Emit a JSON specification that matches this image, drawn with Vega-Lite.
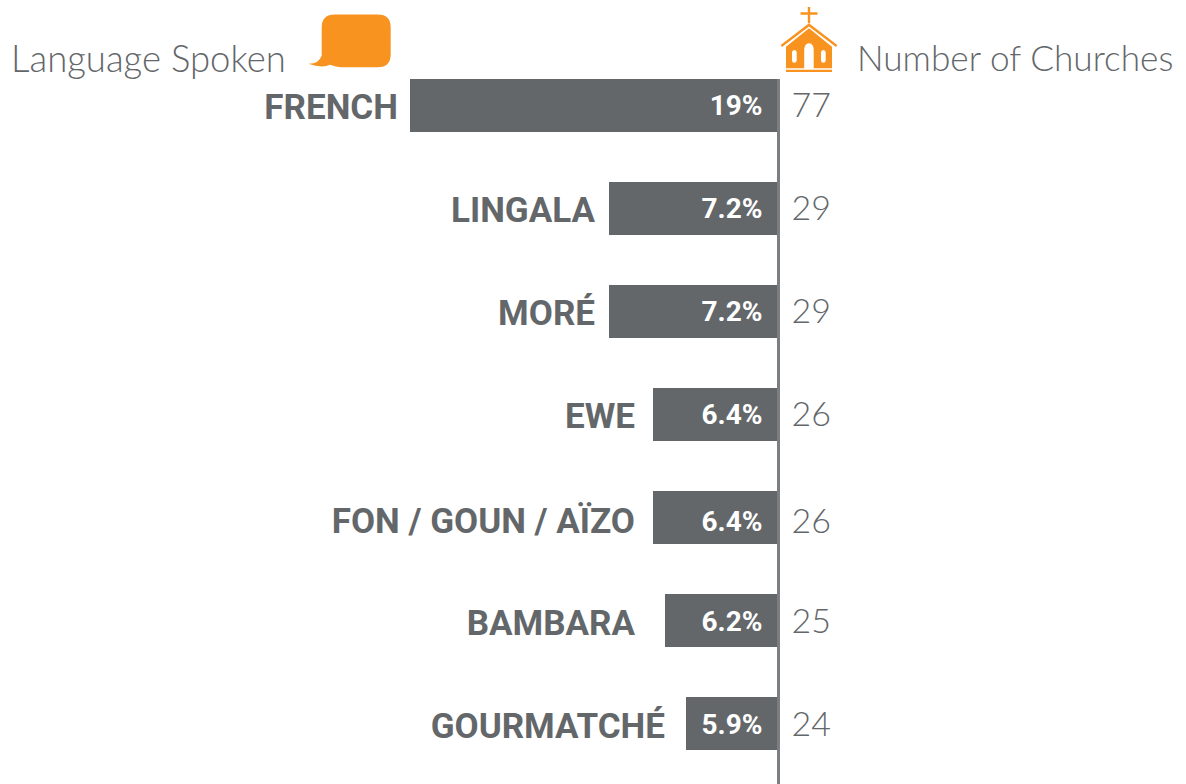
{
"$schema":"https://vega.github.io/schema/vega-lite/v6.json",
"width":1186,"height":784,"padding":0,
"autosize":{"type":"fit","contains":"padding"},
"background":"white",
"config":{"view":{"stroke":null},"text":{"baseline":"middle"}},
"data":{"values":[
{"language":"FRENCH","share":0.19,"churches":77},
{"language":"LINGALA","share":0.072,"churches":29},
{"language":"MORÉ","share":0.072,"churches":29},
{"language":"EWE","share":0.064,"churches":26},
{"language":"FON / GOUN / AÏZO","share":0.064,"churches":26},
{"language":"BAMBARA","share":0.062,"churches":25},
{"language":"GOURMATCHÉ","share":0.059,"churches":24}
]},
"encoding":{
"x":{"field":"share","type":"quantitative","axis":null,"scale":{"domain":[0,0.059,0.062,0.064,0.072,0.19],"range":[778.5,686,665,653,609,410]}},
"y":{"field":"language","type":"nominal","sort":null,"axis":null,"scale":{"range":[79,750],"paddingInner":0.485,"paddingOuter":0}}
},
"layer":[
{"mark":{"type":"bar","color":"#63676a"}},
{"mark":{"type":"rule","color":"#7b7f83","strokeWidth":2.5},"encoding":{"x":{"datum":0},"y":{"value":79},"y2":{"value":784}}},
{"transform":[{"filter":"datum.churches>26 || datum.language==='EWE'"}],"mark":{"type":"text","align":"right","baseline":"middle","dx":-16,"dy":1,"font":"Roboto","fontWeight":"bold","fontSize":28,"color":"white"},"encoding":{"x":{"datum":0},"text":{"field":"share","type":"quantitative","format":".1~%"}}},
{"transform":[{"filter":"datum.language==='FON / GOUN / AÏZO'"}],"mark":{"type":"text","align":"right","baseline":"middle","dx":-16,"dy":6,"font":"Roboto","fontWeight":"bold","fontSize":28,"color":"white"},"encoding":{"x":{"datum":0},"text":{"field":"share","type":"quantitative","format":".1~%"}}},
{"transform":[{"filter":"datum.churches<26"}],"mark":{"type":"text","align":"right","baseline":"middle","dx":-16,"dy":3,"font":"Roboto","fontWeight":"bold","fontSize":28,"color":"white"},"encoding":{"x":{"datum":0},"text":{"field":"share","type":"quantitative","format":".1~%"}}},
{"transform":[{"filter":"datum.churches>26 || datum.language==='EWE'"}],"mark":{"type":"text","align":"left","baseline":"middle","dx":13,"dy":1,"font":"Lato","fontWeight":300,"fontSize":34,"color":"#63676a"},"encoding":{"x":{"datum":0},"text":{"field":"churches","type":"quantitative"}}},
{"transform":[{"filter":"datum.language==='FON / GOUN / AÏZO'"}],"mark":{"type":"text","align":"left","baseline":"middle","dx":13,"dy":6,"font":"Lato","fontWeight":300,"fontSize":34,"color":"#63676a"},"encoding":{"x":{"datum":0},"text":{"field":"churches","type":"quantitative"}}},
{"transform":[{"filter":"datum.churches<26"}],"mark":{"type":"text","align":"left","baseline":"middle","dx":13,"dy":3,"font":"Lato","fontWeight":300,"fontSize":34,"color":"#63676a"},"encoding":{"x":{"datum":0},"text":{"field":"churches","type":"quantitative"}}},
{"transform":[{"filter":"datum.language==='FRENCH'"}],"mark":{"type":"text","align":"right","baseline":"middle","dx":-12,"dy":2,"font":"Roboto","fontWeight":"bold","fontSize":35,"color":"#63676a"},"encoding":{"text":{"field":"language"}}},
{"transform":[{"filter":"datum.share===0.072"}],"mark":{"type":"text","align":"right","baseline":"middle","dx":-14,"dy":2,"font":"Roboto","fontWeight":"bold","fontSize":35,"color":"#63676a"},"encoding":{"text":{"field":"language"}}},
{"transform":[{"filter":"datum.language==='EWE'"}],"mark":{"type":"text","align":"right","baseline":"middle","dx":-18,"dy":2,"font":"Roboto","fontWeight":"bold","fontSize":35,"color":"#63676a"},"encoding":{"text":{"field":"language"}}},
{"transform":[{"filter":"datum.language==='FON / GOUN / AÏZO'"}],"mark":{"type":"text","align":"right","baseline":"middle","dx":-18,"dy":5,"font":"Roboto","fontWeight":"bold","fontSize":35,"color":"#63676a"},"encoding":{"text":{"field":"language"}}},
{"transform":[{"filter":"datum.language==='BAMBARA'"}],"mark":{"type":"text","align":"right","baseline":"middle","dx":-30,"dy":4,"font":"Roboto","fontWeight":"bold","fontSize":35,"color":"#63676a"},"encoding":{"text":{"field":"language"}}},
{"transform":[{"filter":"datum.language==='GOURMATCHÉ'"}],"mark":{"type":"text","align":"right","baseline":"middle","dx":-21,"dy":4,"font":"Roboto","fontWeight":"bold","fontSize":35,"color":"#63676a"},"encoding":{"text":{"field":"language"}}},
{"data":{"values":[{"header":"Language Spoken"}]},"mark":{"type":"text","align":"left","baseline":"alphabetic","font":"Lato","fontWeight":300,"fontSize":36.5,"color":"#63676a"},"encoding":{"x":{"value":11},"y":{"value":72},"text":{"field":"header"}}},
{"data":{"values":[{"header":"Number of Churches"}]},"mark":{"type":"text","align":"left","baseline":"alphabetic","font":"Lato","fontWeight":300,"fontSize":35.2,"color":"#63676a"},"encoding":{"x":{"value":857},"y":{"value":71},"text":{"field":"header"}}},
{"data":{"values":[{"icon":"speech bubble"}]},"mark":{"type":"point","filled":true,"opacity":1,"color":"#f7931e","size":4,"shape":"M-15,-26 H27.7 Q40.7,-26 40.7,-13 V13.7 Q40.7,26.7 27.7,26.7 H-9 Q-14,26.7 -20,24.3 Q-28,28 -41.7,23.3 Q-31,23.5 -28.3,15 V-13 Q-28.3,-26 -15,-26 Z"},"encoding":{"x":{"value":350},"y":{"value":40.5}}},
{"data":{"values":[{"icon":"church"}]},"mark":{"type":"point","filled":true,"opacity":1,"color":"#f7931e","size":4,"shape":"M-1.2,-33 H1.2 V-27.7 H8.5 V-25.3 H1.2 V-17 H-1.2 V-25.3 H-8.5 V-27.7 H-1.2 Z M0,-16.7 L28.3,5 L27,7 L0,-13.4 L-27,7 L-28.3,5 Z M0,-11.7 L23,6.7 V28.3 H4.7 V11 Q4.7,3.3 0,3.3 Q-4.8,3.3 -4.8,11 V28.3 H-23 V6.7 Z M-14.6,10 Q-17,10 -17,12.5 V20.2 Q-17,22.7 -14.6,22.7 Q-12.3,22.7 -12.3,20.2 V12.5 Q-12.3,10 -14.6,10 Z M14.3,10 Q12,10 12,12.5 V20.2 Q12,22.7 14.3,22.7 Q16.7,22.7 16.7,20.2 V12.5 Q16.7,10 14.3,10 Z M-23,29.7 H23 V32 H-23 Z"},"encoding":{"x":{"value":809},"y":{"value":40}}}
]
}
